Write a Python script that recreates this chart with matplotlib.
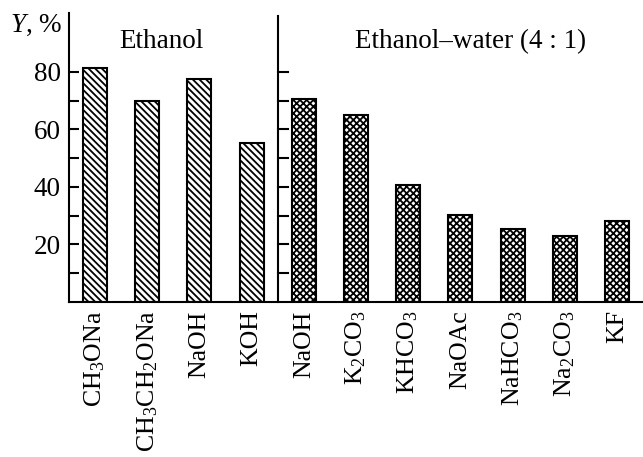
import matplotlib
matplotlib.use("Agg")
import matplotlib.pyplot as plt
import numpy as np

ethanol_labels = ['CH$_3$ONa', 'CH$_3$CH$_2$ONa', 'NaOH', 'KOH']
ethanol_values = [81.5, 70, 77.5, 55.3]
mix_labels = ['NaOH', 'K$_2$CO$_3$', 'KHCO$_3$', 'NaOAc', 'NaHCO$_3$', 'Na$_2$CO$_3$', 'KF']
mix_values = [70.5, 65, 40.6, 30.4, 25.5, 22.8, 28.1]

plt.rcParams['font.family'] = ['Liberation Serif', 'DejaVu Serif']
plt.rcParams['mathtext.fontset'] = 'custom'
plt.rcParams['mathtext.rm'] = 'Liberation Serif'
plt.rcParams['mathtext.it'] = 'Liberation Serif:italic'
plt.rcParams['hatch.linewidth'] = 1.3

fs = 19.5

fig = plt.figure(figsize=(6.43, 4.57), dpi=100)
ax = fig.add_axes([69 / 643, 155 / 457, 574 / 643, 289 / 457])

n1 = len(ethanol_values)
x1 = np.arange(n1)
x2 = np.arange(len(mix_values)) + n1
ax.bar(x1, ethanol_values, width=0.46, color='white', edgecolor='black',
       linewidth=1.5, hatch='\\\\\\\\\\')
ax.bar(x2, mix_values, width=0.46, color='white', edgecolor='black',
       linewidth=1.5, hatch='xxxxx')

ax.set_xlim(-0.5, n1 + len(mix_values) - 0.5)
ax.set_ylim(0, 100.5)
ax.set_xticks(np.concatenate([x1, x2]))
ax.set_xticklabels(ethanol_labels + mix_labels, rotation=90, fontsize=18.6)
ax.tick_params(axis='x', length=0, pad=6)
ax.set_yticks([10, 20, 30, 40, 50, 60, 70, 80])
ax.set_yticklabels(['', '20', '', '40', '', '60', '', '80'], fontsize=fs)
ax.tick_params(axis='y', direction='in', length=7.5, width=1.5, pad=6)

for s in ['top', 'right']:
    ax.spines[s].set_visible(False)
for s in ['left', 'bottom']:
    ax.spines[s].set_linewidth(1.5)

# divider between solvent groups, with its own inward ticks
xd = n1 - 0.5
ax.plot([xd, xd], [0, 99.4], color='black', lw=1.5, clip_on=False)
for yt in [10, 20, 30, 40, 50, 60, 70, 80]:
    ax.plot([xd, xd + 0.19], [yt, yt], color='black', lw=1.5)

ax.text(1.28, 88.3, 'Ethanol', ha='center', va='baseline', fontsize=fs)
ax.text(7.2, 88.3, 'Ethanol–water (4 : 1)', ha='center', va='baseline', fontsize=fs)
fig.text(62 / 643, 1 - 32 / 457, '$\\mathit{Y}$, %', ha='right', va='baseline', fontsize=fs)

fig.savefig('out.png', dpi=100)
